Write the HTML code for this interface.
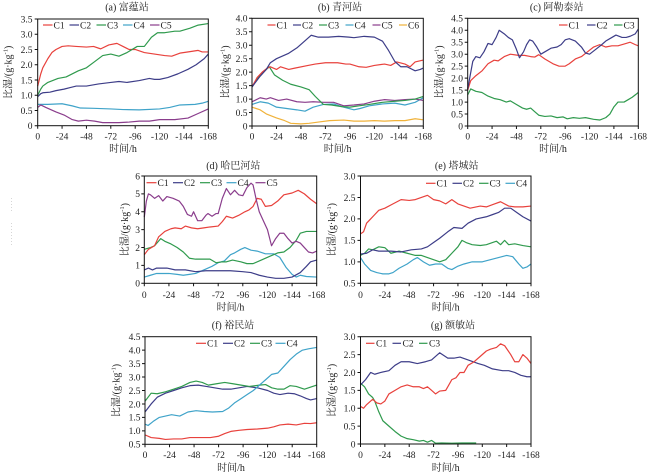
<!DOCTYPE html>
<html><head><meta charset="utf-8"><style>
html,body{margin:0;padding:0;background:#fff;}
svg{display:block;}
text{font-family:"Liberation Serif","Noto Serif CJK SC",serif;fill:#222;}
.tk{font-size:9.5px;}
.lg{font-size:9.5px;}
.ti{font-size:10px;}
.yl{font-size:10px;}
.ax{fill:none;stroke:#111;stroke-width:1;}
.d{fill:none;stroke-width:1.2;vector-effect:non-scaling-stroke;stroke-linejoin:round;}
.c1{stroke:#e8413c;}.c2{stroke:#3d3d88;}.c3{stroke:#2f9a4d;}.c4{stroke:#3fa3c9;}.c5{stroke:#8a3d8c;}.c6{stroke:#f0b23a;}
.l{stroke-width:1.2;}
</style></head><body>
<svg width="650" height="475" viewBox="0 0 650 475" xmlns="http://www.w3.org/2000/svg">
<line x1="11.5" y1="198" x2="11.5" y2="213" stroke="#ccc" stroke-width="0.8" stroke-dasharray="1,2"/>
<line x1="11.5" y1="223" x2="11.5" y2="245" stroke="#ccc" stroke-width="0.8" stroke-dasharray="1,2"/>

<!-- ===== (a) ===== -->
<text class="ti" x="127" y="10.5" text-anchor="middle">(a) 富蕴站</text>
<g transform="translate(37.7,125.7) scale(1.01548,-30.486)">
<polyline class="d c1" points="0,1.3 3,1.7 5,1.9 10,2.2 14,2.4 18,2.5 24,2.6 30,2.62 38,2.6 48,2.58 55,2.6 62,2.52 70,2.65 78,2.7 84,2.6 90,2.5 96,2.5 105,2.4 115,2.35 125,2.3 132,2.28 140,2.38 150,2.43 158,2.47 162,2.42 168,2.42"/>
<polyline class="d c2" points="0,0.95 3,1.05 5,1.08 12,1.1 18,1.15 26,1.2 32,1.25 38,1.3 48,1.3 60,1.37 72,1.42 80,1.45 88,1.42 100,1.48 110,1.55 115,1.52 120,1.52 128,1.58 138,1.7 148,1.85 156,2.0 164,2.2 168,2.35"/>
<polyline class="d c3" points="0,1.0 3,1.2 5,1.3 10,1.42 20,1.55 28,1.6 40,1.8 48,1.9 56,2.1 64,2.3 72,2.35 80,2.28 88,2.4 98,2.6 105,2.6 112,2.9 118,3.05 125,3.05 135,3.1 140,3.1 150,3.2 158,3.3 168,3.35"/>
<polyline class="d c4" points="0,0.7 10,0.7 24,0.72 34,0.65 42,0.58 55,0.57 72,0.55 84,0.53 100,0.52 120,0.55 130,0.6 140,0.68 155,0.7 162,0.74 168,0.8"/>
<polyline class="d c5" points="0,0.6 3,0.68 8,0.6 18,0.45 26,0.35 34,0.2 40,0.15 48,0.18 56,0.15 64,0.1 80,0.1 90,0.12 100,0.15 110,0.15 120,0.2 135,0.2 148,0.25 158,0.4 168,0.55"/>
</g>
<rect class="ax" x="37.7" y="19" width="170.6" height="106.7"/>
<path class="ax" d="M34.7,125.7H37.7M34.7,110.46H37.7M34.7,95.21H37.7M34.7,79.97H37.7M34.7,64.73H37.7M34.7,49.49H37.7M34.7,34.24H37.7M34.7,19H37.7 M37.7,125.7V128.7M62.07,125.7V128.7M86.44,125.7V128.7M110.8,125.7V128.7M135.2,125.7V128.7M159.6,125.7V128.7M183.9,125.7V128.7M208.3,125.7V128.7"/>
<g class="tk" text-anchor="end">
<text x="32.5" y="129">0</text><text x="32.5" y="113.8">0.5</text><text x="32.5" y="98.5">1.0</text><text x="32.5" y="83.3">1.5</text><text x="32.5" y="68">2.0</text><text x="32.5" y="52.8">2.5</text><text x="32.5" y="37.5">3.0</text><text x="32.5" y="22.3">3.5</text>
</g>
<g class="tk" text-anchor="middle">
<text x="37.7" y="139.3">0</text><text x="62.07" y="139.3">-24</text><text x="86.44" y="139.3">-48</text><text x="110.8" y="139.3">-72</text><text x="135.2" y="139.3">-96</text><text x="159.6" y="139.3">-120</text><text x="183.9" y="139.3">-144</text><text x="208.3" y="139.3">-168</text>
</g>
<text class="ti" x="123" y="152" text-anchor="middle">时间/h</text>
<text class="yl" transform="translate(11.5,72.3) rotate(-90)" text-anchor="middle">比湿/(g·kg<tspan font-size="6.5" dy="-4">-1</tspan><tspan dy="4">)</tspan></text>
<g class="lg">
<line class="l c1" x1="43" y1="25" x2="52.5" y2="25"/><text x="53.5" y="28.3">C1</text>
<line class="l c2" x1="69.5" y1="25" x2="79" y2="25"/><text x="80" y="28.3">C2</text>
<line class="l c3" x1="96.5" y1="25" x2="106" y2="25"/><text x="107" y="28.3">C3</text>
<line class="l c4" x1="123" y1="25" x2="132.5" y2="25"/><text x="133.5" y="28.3">C4</text>
<line class="l c5" x1="150" y1="25" x2="159.5" y2="25"/><text x="160.5" y="28.3">C5</text>
</g>

<!-- ===== (b) ===== -->
<text class="ti" x="340" y="10.5" text-anchor="middle">(b) 青河站</text>
<g transform="translate(252,126) scale(1.01964,-26.925)">
<polyline class="d c6" points="0,0.7 8,0.6 14,0.45 24,0.3 32,0.2 38,0.1 48,0.08 56,0.1 66,0.15 76,0.2 90,0.22 100,0.18 110,0.18 120,0.2 130,0.18 140,0.2 150,0.2 160,0.27 168,0.23"/>
<polyline class="d c4" points="0,0.8 8,0.9 16,0.85 24,0.7 34,0.65 44,0.6 52,0.55 60,0.7 70,0.8 80,0.82 90,0.7 100,0.6 106,0.65 115,0.75 128,0.82 140,0.85 150,0.78 160,0.88 168,1.05"/>
<polyline class="d c5" points="0,0.9 8,1.05 14,1.0 18,1.05 26,0.95 34,1.0 44,0.9 52,0.88 60,0.9 70,0.88 80,0.88 90,0.75 100,0.78 110,0.82 120,0.92 130,0.98 140,0.95 150,0.98 160,1.0 168,0.95"/>
<polyline class="d c3" points="0,1.45 8,1.9 14,2.1 17,2.2 22,1.9 30,1.7 38,1.55 48,1.45 56,1.35 62,1.1 70,0.8 78,0.78 88,0.72 96,0.7 105,0.75 115,0.8 128,0.88 140,0.92 150,0.95 160,1.0 168,1.1"/>
<polyline class="d c1" points="0,1.45 5,1.8 10,2.0 15,2.15 18,2.2 24,2.1 28,2.2 36,2.1 42,2.15 55,2.25 62,2.3 72,2.35 84,2.35 92,2.3 96,2.3 105,2.2 112,2.18 120,2.25 130,2.3 136,2.25 142,2.38 150,2.3 155,2.2 160,2.38 168,2.45"/>
<polyline class="d c2" points="0,1.45 8,1.85 14,2.1 18,2.35 24,2.5 36,2.7 44,2.9 50,3.1 58,3.37 65,3.3 75,3.3 85,3.33 95,3.3 100,3.28 110,3.33 120,3.3 128,3.15 134,2.8 140,2.4 146,2.2 152,2.2 160,2.05 165,2.1 168,2.15"/>
</g>
<rect class="ax" x="252" y="18.3" width="171.3" height="107.7"/>
<path class="ax" d="M249,126H252M249,112.54H252M249,99.08H252M249,85.61H252M249,72.15H252M249,58.69H252M249,45.23H252M249,31.76H252M249,18.3H252 M252,126V129M276.47,126V129M300.94,126V129M325.4,126V129M349.9,126V129M374.35,126V129M398.8,126V129M423.3,126V129"/>
<g class="tk" text-anchor="end">
<text x="247.5" y="129.3">0</text><text x="247.5" y="115.8">0.5</text><text x="247.5" y="102.4">1.0</text><text x="247.5" y="88.9">1.5</text><text x="247.5" y="75.5">2.0</text><text x="247.5" y="62">2.5</text><text x="247.5" y="48.5">3.0</text><text x="247.5" y="35.1">3.5</text><text x="247.5" y="21.6">4.0</text>
</g>
<g class="tk" text-anchor="middle">
<text x="252" y="139.5">0</text><text x="276.47" y="139.5">-24</text><text x="300.94" y="139.5">-48</text><text x="325.4" y="139.5">-72</text><text x="349.9" y="139.5">-96</text><text x="374.35" y="139.5">-120</text><text x="398.8" y="139.5">-144</text><text x="423.3" y="139.5">-168</text>
</g>
<text class="ti" x="337.6" y="152" text-anchor="middle">时间/h</text>
<text class="yl" transform="translate(228.5,72) rotate(-90)" text-anchor="middle">比湿/(g·kg<tspan font-size="6.5" dy="-4">-1</tspan><tspan dy="4">)</tspan></text>
<g class="lg">
<line class="l c1" x1="267.5" y1="25" x2="275.5" y2="25"/><text x="276.5" y="28.3">C1</text>
<line class="l c2" x1="293" y1="25" x2="301" y2="25"/><text x="302" y="28.3">C2</text>
<line class="l c3" x1="319" y1="25" x2="327" y2="25"/><text x="328" y="28.3">C3</text>
<line class="l c4" x1="345.5" y1="25" x2="353.5" y2="25"/><text x="354.5" y="28.3">C4</text>
<line class="l c5" x1="372.5" y1="25" x2="380.5" y2="25"/><text x="381.5" y="28.3">C5</text>
<line class="l c6" x1="399" y1="25" x2="407" y2="25"/><text x="408" y="28.3">C6</text>
</g>

<!-- ===== (c) ===== -->
<text class="ti" x="556.7" y="10.5" text-anchor="middle">(c) 阿勒泰站</text>
<g transform="translate(467.7,126) scale(1.01548,-23.933)">
<polyline class="d c3" points="0,1.3 3,1.55 8,1.45 14,1.4 20,1.25 26,1.15 32,1.1 38,1.0 42,1.05 48,0.9 54,0.75 58,0.7 62,0.75 66,0.6 70,0.45 76,0.4 82,0.42 88,0.35 94,0.38 98,0.3 104,0.35 110,0.32 116,0.35 124,0.28 130,0.25 136,0.35 140,0.5 144,0.8 148,1.0 154,1.0 158,1.1 162,1.2 168,1.4"/>
<polyline class="d c1" points="0,1.5 3,1.9 8,2.1 14,2.3 20,2.6 26,2.75 30,2.72 36,2.9 42,3.0 50,2.95 56,2.95 62,2.9 66,2.88 70,2.98 76,2.8 84,2.6 90,2.5 96,2.5 100,2.6 106,2.8 112,2.9 118,3.1 124,3.3 130,3.4 136,3.3 142,3.35 148,3.35 156,3.45 160,3.5 165,3.4 168,3.35"/>
<polyline class="d c2" points="0,1.55 5,2.7 8,2.9 12,2.85 16,3.1 20,3.45 24,3.4 28,3.7 31,4.0 36,3.85 40,3.7 44,3.6 48,3.2 51,2.85 55,3.1 58,3.4 61,3.6 64,3.55 68,3.3 72,3.0 76,3.1 82,3.25 88,3.3 92,3.4 96,3.6 100,3.65 106,3.55 112,3.3 116,3.05 120,3.0 126,3.2 132,3.4 136,3.55 142,3.7 146,3.8 152,3.7 156,3.7 160,3.75 165,3.85 168,4.05"/>
</g>
<rect class="ax" x="467.7" y="18.3" width="170.6" height="107.7"/>
<path class="ax" d="M464.7,126H467.7M464.7,114.03H467.7M464.7,102.07H467.7M464.7,90.1H467.7M464.7,78.13H467.7M464.7,66.17H467.7M464.7,54.2H467.7M464.7,42.23H467.7M464.7,30.27H467.7M464.7,18.3H467.7 M467.7,126V129M492.07,126V129M516.44,126V129M540.8,126V129M565.2,126V129M589.6,126V129M613.9,126V129M638.3,126V129"/>
<g class="tk" text-anchor="end">
<text x="463" y="129.3">0</text><text x="463" y="117.3">0.5</text><text x="463" y="105.4">1.0</text><text x="463" y="93.4">1.5</text><text x="463" y="81.4">2.0</text><text x="463" y="69.5">2.5</text><text x="463" y="57.5">3.0</text><text x="463" y="45.5">3.5</text><text x="463" y="33.6">4.0</text><text x="463" y="21.6">4.5</text>
</g>
<g class="tk" text-anchor="middle">
<text x="467.7" y="139.5">0</text><text x="492.07" y="139.5">-24</text><text x="516.44" y="139.5">-48</text><text x="540.8" y="139.5">-72</text><text x="565.2" y="139.5">-96</text><text x="589.6" y="139.5">-120</text><text x="613.9" y="139.5">-144</text><text x="638.3" y="139.5">-168</text>
</g>
<text class="ti" x="553" y="152" text-anchor="middle">时间/h</text>
<text class="yl" transform="translate(442.5,72) rotate(-90)" text-anchor="middle">比湿/(g·kg<tspan font-size="6.5" dy="-4">-1</tspan><tspan dy="4">)</tspan></text>
<g class="lg">
<line class="l c1" x1="559" y1="25" x2="567.5" y2="25"/><text x="568.5" y="28.3">C1</text>
<line class="l c2" x1="587" y1="25" x2="595.5" y2="25"/><text x="596.5" y="28.3">C2</text>
<line class="l c3" x1="614" y1="25" x2="622.5" y2="25"/><text x="623.5" y="28.3">C3</text>
</g>

<!-- ===== (d) ===== -->
<text class="ti" x="233.3" y="169" text-anchor="middle">(d) 哈巴河站</text>
<g transform="translate(144.3,283.3) scale(1.02619,-17.883)">
<polyline class="d c4" points="0,0.35 6,0.45 12,0.55 24,0.55 32,0.5 38,0.45 44,0.5 50,0.55 58,0.75 66,0.95 72,1.15 78,1.25 84,1.6 88,1.7 94,1.9 98,2.0 104,1.85 110,1.8 118,1.65 126,1.65 132,1.45 138,0.9 144,0.5 148,0.35 152,0.45 158,0.38 168,0.35"/>
<polyline class="d c2" points="0,0.75 4,0.85 8,0.75 12,0.85 22,0.85 30,0.75 40,0.75 50,0.65 60,0.7 72,0.7 84,0.7 96,0.65 104,0.6 112,0.45 120,0.35 128,0.28 136,0.28 144,0.35 152,0.6 158,0.95 162,1.2 168,1.3"/>
<polyline class="d c3" points="0,1.9 6,2.0 10,2.1 16,2.5 20,2.35 26,2.2 32,2.0 38,1.75 44,1.4 50,1.35 56,1.35 64,1.35 70,1.15 76,1.2 80,1.2 86,1.3 94,1.2 100,1.1 106,1.1 114,1.3 122,1.5 130,1.7 136,1.75 142,2.0 148,2.4 152,2.8 158,2.9 168,2.9"/>
<polyline class="d c1" points="0,1.6 4,1.9 10,2.1 14,2.6 20,2.9 26,3.05 30,3.1 36,3.05 40,3.2 46,3.1 52,3.05 58,3.1 64,3.15 72,3.2 76,3.45 80,3.75 86,3.65 92,3.8 98,4.0 102,4.1 106,4.3 110,4.75 114,4.7 118,4.3 124,4.35 130,4.6 136,4.95 144,5.05 150,5.2 156,5.0 162,4.7 168,4.45"/>
<polyline class="d c5" points="0,3.7 2,4.6 4,5.0 6,4.95 10,4.75 14,4.9 18,4.6 22,4.85 28,4.75 34,4.6 38,4.3 42,3.85 46,3.75 48,4.0 52,3.5 56,3.5 60,3.8 62,3.9 66,3.75 70,3.9 72,3.9 76,4.75 80,5.3 84,4.95 88,5.2 92,4.95 96,4.9 100,5.35 104,5.6 106,5.5 109,4.7 112,4.0 116,3.5 120,3.0 124,2.1 128,2.5 132,2.8 136,2.8 140,2.5 144,2.25 148,2.35 152,2.25 156,2.0 160,1.75 164,1.7 168,1.8"/>
</g>
<rect class="ax" x="144.3" y="176" width="172.4" height="107.3"/>
<path class="ax" d="M141.3,283.3H144.3M141.3,265.42H144.3M141.3,247.53H144.3M141.3,229.65H144.3M141.3,211.77H144.3M141.3,193.88H144.3M141.3,176H144.3 M144.3,283.3V286.3M168.93,283.3V286.3M193.56,283.3V286.3M218.2,283.3V286.3M242.8,283.3V286.3M267.4,283.3V286.3M292.1,283.3V286.3M316.7,283.3V286.3"/>
<g class="tk" text-anchor="end">
<text x="140" y="286.6">0</text><text x="140" y="268.7">1</text><text x="140" y="250.8">2</text><text x="140" y="233">3</text><text x="140" y="215.1">4</text><text x="140" y="197.2">5</text><text x="140" y="179.3">6</text>
</g>
<g class="tk" text-anchor="middle">
<text x="144.3" y="298">0</text><text x="168.93" y="298">-24</text><text x="193.56" y="298">-48</text><text x="218.2" y="298">-72</text><text x="242.8" y="298">-96</text><text x="267.4" y="298">-120</text><text x="292.1" y="298">-144</text><text x="316.7" y="298">-168</text>
</g>
<text class="ti" x="230.5" y="310.5" text-anchor="middle">时间/h</text>
<text class="yl" transform="translate(128,229.6) rotate(-90)" text-anchor="middle">比湿/(g·kg<tspan font-size="6.5" dy="-4">-1</tspan><tspan dy="4">)</tspan></text>
<g class="lg">
<line class="l c1" x1="146.5" y1="182.7" x2="156.5" y2="182.7"/><text x="157.5" y="186">C1</text>
<line class="l c2" x1="173" y1="182.7" x2="183" y2="182.7"/><text x="184" y="186">C2</text>
<line class="l c3" x1="200" y1="182.7" x2="210" y2="182.7"/><text x="211" y="186">C3</text>
<line class="l c4" x1="226.5" y1="182.7" x2="236.5" y2="182.7"/><text x="237.5" y="186">C4</text>
<line class="l c5" x1="255.5" y1="182.7" x2="265.5" y2="182.7"/><text x="266.5" y="186">C5</text>
</g>

<!-- ===== (e) ===== -->
<text class="ti" x="456.7" y="169" text-anchor="middle">(e) 塔城站</text>
<g transform="translate(360.5,304.76) scale(1.01488,-42.92)">
<polyline class="d c4" points="0,1.1 4,0.95 10,0.8 16,0.75 22,0.72 28,0.72 32,0.75 38,0.85 46,0.95 52,1.05 56,1.1 62,1.0 68,0.92 74,0.95 80,0.95 86,0.85 90,0.82 96,0.9 102,0.95 110,1.0 120,1.0 128,1.05 136,1.1 144,1.15 150,1.12 156,0.95 160,0.85 164,0.88 168,0.95"/>
<polyline class="d c3" points="0,1.15 4,1.2 8,1.3 12,1.28 18,1.35 24,1.33 30,1.2 38,1.25 46,1.2 54,1.15 60,1.15 66,1.1 72,1.05 78,1.0 84,1.05 90,1.2 96,1.35 100,1.5 104,1.45 110,1.4 118,1.38 124,1.4 130,1.45 134,1.48 138,1.4 142,1.5 146,1.4 152,1.42 160,1.38 168,1.35"/>
<polyline class="d c2" points="0,1.18 6,1.2 12,1.28 18,1.25 30,1.25 40,1.23 50,1.28 60,1.3 66,1.35 72,1.45 78,1.55 86,1.7 92,1.8 100,1.78 106,1.9 114,2.0 124,2.05 130,2.1 136,2.15 142,2.25 148,2.25 154,2.15 160,2.05 168,1.95"/>
<polyline class="d c1" points="0,1.65 3,1.7 6,1.9 10,2.0 14,2.1 18,2.2 24,2.25 32,2.35 40,2.45 48,2.43 54,2.45 60,2.5 66,2.55 72,2.45 78,2.42 84,2.35 90,2.45 96,2.35 108,2.25 118,2.3 124,2.28 132,2.35 138,2.4 146,2.3 152,2.28 160,2.28 168,2.3"/>
</g>
<rect class="ax" x="360.5" y="176" width="170.5" height="107.3"/>
<path class="ax" d="M357.5,283.3H360.5M357.5,261.84H360.5M357.5,240.38H360.5M357.5,218.92H360.5M357.5,197.46H360.5M357.5,176H360.5 M360.5,283.3V286.3M384.86,283.3V286.3M409.21,283.3V286.3M433.57,283.3V286.3M457.93,283.3V286.3M482.29,283.3V286.3M506.64,283.3V286.3M531,283.3V286.3"/>
<g class="tk" text-anchor="end">
<text x="355.5" y="286.6">0.5</text><text x="355.5" y="265.1">1.0</text><text x="355.5" y="243.7">1.5</text><text x="355.5" y="222.2">2.0</text><text x="355.5" y="200.8">2.5</text><text x="355.5" y="179.3">3.0</text>
</g>
<g class="tk" text-anchor="middle">
<text x="360.5" y="298">0</text><text x="384.86" y="298">-24</text><text x="409.21" y="298">-48</text><text x="433.57" y="298">-72</text><text x="457.93" y="298">-96</text><text x="482.29" y="298">-120</text><text x="506.64" y="298">-144</text><text x="531" y="298">-168</text>
</g>
<text class="ti" x="445.7" y="310.5" text-anchor="middle">时间/h</text>
<text class="yl" transform="translate(335,229.6) rotate(-90)" text-anchor="middle">比湿/(g·kg<tspan font-size="6.5" dy="-4">-1</tspan><tspan dy="4">)</tspan></text>
<g class="lg">
<line class="l c1" x1="426" y1="183.3" x2="435.5" y2="183.3"/><text x="436.5" y="186.6">C1</text>
<line class="l c2" x1="452.5" y1="183.3" x2="462" y2="183.3"/><text x="463" y="186.6">C2</text>
<line class="l c3" x1="479" y1="183.3" x2="488.5" y2="183.3"/><text x="489.5" y="186.6">C3</text>
<line class="l c4" x1="505.5" y1="183.3" x2="515" y2="183.3"/><text x="516" y="186.6">C4</text>
</g>

<!-- ===== (f) ===== -->
<text class="ti" x="233" y="328.5" text-anchor="middle">(f) 裕民站</text>
<g transform="translate(145,457.75) scale(1.02202,-26.9)">
<polyline class="d c1" points="0,0.85 6,0.75 14,0.72 20,0.68 28,0.7 36,0.7 44,0.75 56,0.75 64,0.75 72,0.8 78,0.9 84,0.98 92,1.02 100,1.05 110,1.07 120,1.1 126,1.15 132,1.22 140,1.25 148,1.22 156,1.28 162,1.27 168,1.3"/>
<polyline class="d c2" points="0,1.7 6,2.0 12,2.25 20,2.4 28,2.5 36,2.6 44,2.68 52,2.7 60,2.65 68,2.6 76,2.55 84,2.55 92,2.6 100,2.65 110,2.6 120,2.5 126,2.4 132,2.35 140,2.4 146,2.38 152,2.3 158,2.2 162,2.15 168,2.2"/>
<polyline class="d c3" points="0,2.1 6,2.4 12,2.38 20,2.45 28,2.55 36,2.65 44,2.8 50,2.85 56,2.8 62,2.7 70,2.75 78,2.8 86,2.75 94,2.7 102,2.65 112,2.7 118,2.72 124,2.6 130,2.55 136,2.55 142,2.68 148,2.65 156,2.55 164,2.65 168,2.7"/>
<polyline class="d c4" points="0,1.25 3,1.2 8,1.35 14,1.5 20,1.55 26,1.6 34,1.55 42,1.7 50,1.75 58,1.72 66,1.7 76,1.72 82,1.85 88,2.05 94,2.2 100,2.35 106,2.5 112,2.7 118,2.9 124,3.1 130,3.15 136,3.4 142,3.65 148,3.85 154,4.0 160,4.05 168,4.1"/>
</g>
<rect class="ax" x="145" y="336.7" width="171.7" height="107.6"/>
<path class="ax" d="M142,444.3H145M142,430.85H145M142,417.4H145M142,403.95H145M142,390.5H145M142,377.05H145M142,363.6H145M142,350.15H145M142,336.7H145 M145,444.3V447.3M169.53,444.3V447.3M194.06,444.3V447.3M218.6,444.3V447.3M243.1,444.3V447.3M267.6,444.3V447.3M292.2,444.3V447.3M316.7,444.3V447.3"/>
<g class="tk" text-anchor="end">
<text x="140.5" y="447.6">0.5</text><text x="140.5" y="434.2">1.0</text><text x="140.5" y="420.7">1.5</text><text x="140.5" y="407.3">2.0</text><text x="140.5" y="393.8">2.5</text><text x="140.5" y="380.4">3.0</text><text x="140.5" y="366.9">3.5</text><text x="140.5" y="353.5">4.0</text><text x="140.5" y="340">4.5</text>
</g>
<g class="tk" text-anchor="middle">
<text x="145" y="458">0</text><text x="169.53" y="458">-24</text><text x="194.06" y="458">-48</text><text x="218.6" y="458">-72</text><text x="243.1" y="458">-96</text><text x="267.6" y="458">-120</text><text x="292.2" y="458">-144</text><text x="316.7" y="458">-168</text>
</g>
<text class="ti" x="231" y="471" text-anchor="middle">时间/h</text>
<text class="yl" transform="translate(119.5,390.5) rotate(-90)" text-anchor="middle">比湿/(g·kg<tspan font-size="6.5" dy="-4">-1</tspan><tspan dy="4">)</tspan></text>
<g class="lg">
<line class="l c1" x1="196" y1="343.3" x2="206" y2="343.3"/><text x="207" y="346.6">C1</text>
<line class="l c2" x1="223" y1="343.3" x2="233" y2="343.3"/><text x="234" y="346.6">C2</text>
<line class="l c3" x1="250" y1="343.3" x2="260" y2="343.3"/><text x="261" y="346.6">C3</text>
<line class="l c4" x1="275.5" y1="343.3" x2="285.5" y2="343.3"/><text x="286.5" y="346.6">C4</text>
</g>

<!-- ===== (g) ===== -->
<text class="ti" x="453" y="328.5" text-anchor="middle">(g) 额敏站</text>
<g transform="translate(360.5,444) scale(1.01488,-35.767)">
<polyline class="d c3" points="0,1.7 4,1.6 8,1.4 12,1.3 14,1.2 18,0.9 22,0.65 28,0.5 34,0.35 40,0.22 46,0.15 52,0.12 58,0.08 62,0.1 66,0.05 70,0.1 74,0.02 80,0.03 90,0.02 100,0.03 114,0.03"/>
<polyline class="d c2" points="0,1.65 5,1.8 10,2.0 14,1.95 20,2.0 28,2.05 34,2.2 40,2.3 48,2.3 56,2.25 64,2.3 70,2.35 76,2.5 78,2.55 86,2.4 92,2.4 98,2.43 106,2.35 116,2.25 122,2.2 130,2.1 140,2.05 146,2.05 152,2.0 158,1.92 164,1.88 168,1.88"/>
<polyline class="d c1" points="0,1.05 3,1.0 6,1.1 10,1.2 12,1.25 16,1.15 20,1.12 24,1.2 28,1.4 34,1.5 40,1.6 46,1.65 52,1.6 58,1.6 62,1.55 66,1.6 70,1.5 74,1.4 78,1.48 84,1.5 86,1.6 90,1.8 94,1.85 98,2.0 102,2.0 106,2.2 112,2.3 118,2.45 124,2.6 128,2.65 134,2.7 138,2.8 142,2.75 148,2.5 152,2.3 156,2.3 160,2.5 164,2.4 168,2.25"/>
</g>
<rect class="ax" x="360.5" y="336.7" width="170.5" height="107.3"/>
<path class="ax" d="M357.5,444H360.5M357.5,426.12H360.5M357.5,408.23H360.5M357.5,390.35H360.5M357.5,372.47H360.5M357.5,354.58H360.5M357.5,336.7H360.5 M360.5,444V447M384.86,444V447M409.21,444V447M433.57,444V447M457.93,444V447M482.29,444V447M506.64,444V447M531,444V447"/>
<g class="tk" text-anchor="end">
<text x="355.5" y="447.3">0</text><text x="355.5" y="429.4">0.5</text><text x="355.5" y="411.5">1.0</text><text x="355.5" y="393.6">1.5</text><text x="355.5" y="375.8">2.0</text><text x="355.5" y="357.9">2.5</text><text x="355.5" y="340">3.0</text>
</g>
<g class="tk" text-anchor="middle">
<text x="360.5" y="457.8">0</text><text x="384.86" y="457.8">-24</text><text x="409.21" y="457.8">-48</text><text x="433.57" y="457.8">-72</text><text x="457.93" y="457.8">-96</text><text x="482.29" y="457.8">-120</text><text x="506.64" y="457.8">-144</text><text x="531" y="457.8">-168</text>
</g>
<text class="ti" x="445.7" y="471" text-anchor="middle">时间/h</text>
<text class="yl" transform="translate(335,390.4) rotate(-90)" text-anchor="middle">比湿/(g·kg<tspan font-size="6.5" dy="-4">-1</tspan><tspan dy="4">)</tspan></text>
<g class="lg">
<line class="l c1" x1="366" y1="343.3" x2="374.5" y2="343.3"/><text x="376" y="346.6">C1</text>
<line class="l c2" x1="392.5" y1="343.3" x2="401" y2="343.3"/><text x="402.5" y="346.6">C2</text>
<line class="l c3" x1="419" y1="343.3" x2="427.5" y2="343.3"/><text x="429" y="346.6">C3</text>
</g>
</svg>
</body></html>
